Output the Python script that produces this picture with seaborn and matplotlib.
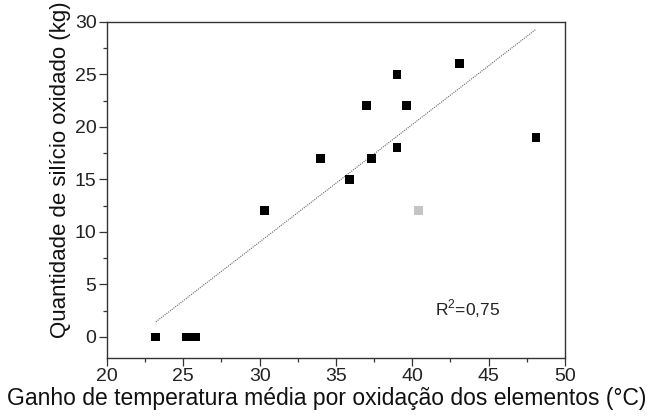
import matplotlib
matplotlib.use("Agg")
import matplotlib.pyplot as plt
import seaborn as sns
import numpy as np
import pandas as pd
from matplotlib.ticker import MultipleLocator

# Data
temp_gain = [23.2, 25.2, 25.8, 30.3, 34.0, 35.9, 37.0, 37.3, 39.0, 39.0, 39.6, 43.1, 48.1]
silicon_kg = [0, 0, 0, 12, 17, 15, 22, 17, 25, 18, 22, 26, 19]
outlier_x = [40.4]
outlier_y = [12]
r2_text = "R$^2$=0,75"

sns.set_theme(style="white")
plt.rcParams['font.family'] = ['Liberation Sans', 'DejaVu Sans']
plt.rcParams['mathtext.fontset'] = 'custom'
plt.rcParams['mathtext.rm'] = 'Liberation Sans'

df = pd.DataFrame({"x": temp_gain, "y": silicon_kg})
df_out = pd.DataFrame({"x": outlier_x, "y": outlier_y})

fig = plt.figure(figsize=(6.54, 4.19), dpi=100)
ax = fig.add_axes([107/654, 1 - 358/419, (565 - 107)/654, (358 - 21.7)/419])

sns.regplot(data=df, x="x", y="y", ax=ax, scatter=False, ci=None, truncate=True,
            line_kws=dict(color="#666666", linestyle=(0, (1, 1)), linewidth=0.8))
sns.scatterplot(data=df, x="x", y="y", ax=ax, marker="s", s=40, color="black",
                edgecolor="none", zorder=3)
sns.scatterplot(data=df_out, x="x", y="y", ax=ax, marker="s", s=40, color="#c4c4c4",
                edgecolor="none", zorder=3)

ax.set_xlim(20, 50)
ax.set_ylim(-2, 30)
ax.xaxis.set_minor_locator(MultipleLocator(2.5))
ax.yaxis.set_minor_locator(MultipleLocator(2.5))
ax.set_xticks([20, 25, 30, 35, 40, 45, 50])
ax.set_yticks([0, 5, 10, 15, 20, 25, 30])

ax.tick_params(axis="both", which="major", direction="out", length=6, width=0.9,
               color="#333333", labelsize=14, pad=1.5, labelcolor="#222222")
ax.tick_params(axis="both", which="minor", direction="out", length=3, width=0.9,
               color="#333333")
ax.tick_params(top=False, right=False, which="both")
ax.tick_params(axis="x", which="both", bottom=True)
ax.tick_params(axis="y", which="both", left=True)

for sp in ax.spines.values():
    sp.set_color("#333333")
    sp.set_linewidth(1.0)

ax.set_xlabel("Ganho de temperatura média por oxidação dos elementos (°C)",
              fontsize=16.5, color="#111111", labelpad=1)
ax.set_ylabel("Quantidade de silício oxidado (kg)", fontsize=16, color="#111111",
              labelpad=3)
ax.xaxis.label.set_x((327 - 107) / 458)
ax.yaxis.label.set_y((358 - 170) / 336.3)

ax.text(41.5, 2.7, r2_text, fontsize=12.5, color="#222222", ha="left", va="center")

fig.savefig("out.png", dpi=100)
